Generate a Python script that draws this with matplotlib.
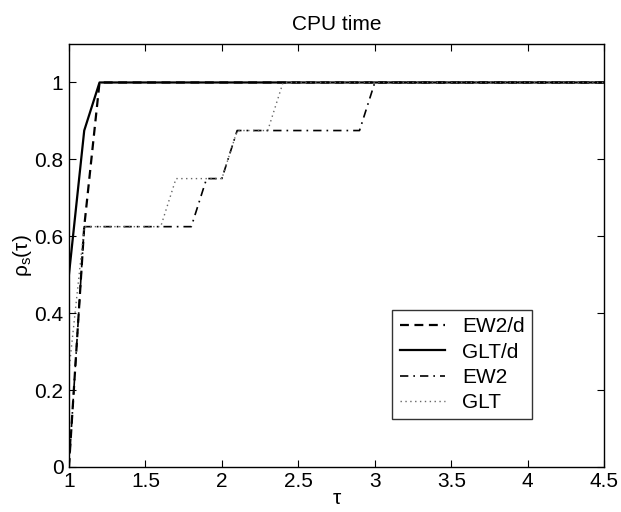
import matplotlib
matplotlib.use('Agg')
import matplotlib.pyplot as plt

# performance profile data (tau, rho)
tau_ew2d = [1.0, 1.1, 1.2, 4.5]
rho_ew2d = [0.0, 0.625, 1.0, 1.0]

tau_gltd = [1.0, 1.1, 1.2, 4.5]
rho_gltd = [0.5, 0.875, 1.0, 1.0]

tau_ew2 = [1.0, 1.1, 1.8, 1.9, 2.0, 2.1, 2.9, 3.0, 4.5]
rho_ew2 = [0.0, 0.625, 0.625, 0.75, 0.75, 0.875, 0.875, 1.0, 1.0]

tau_glt = [1.0, 1.1, 1.6, 1.7, 2.0, 2.1, 2.3, 2.4, 4.5]
rho_glt = [0.25, 0.625, 0.625, 0.75, 0.75, 0.875, 0.875, 1.0, 1.0]

names = ['EW2/d', 'GLT/d', 'EW2', 'GLT']

plt.rcParams['font.family'] = ['Liberation Sans', 'DejaVu Sans']
plt.rcParams['mathtext.default'] = 'regular'

fig = plt.figure(figsize=(6.21, 5.12), dpi=100)
ax = fig.add_axes([0.111, 0.088, 0.862, 0.826])

ax.plot(tau_ew2d, rho_ew2d, 'k--', lw=1.6, dashes=(4, 2.5))
ax.plot(tau_gltd, rho_gltd, 'k-', lw=1.6)
ax.plot(tau_ew2, rho_ew2, 'k-.', lw=1.2, dashes=(5, 3, 1, 3))
ax.plot(tau_glt, rho_glt, color='0.4', ls=':', lw=1.0, dashes=(1, 2.5))

ax.set_xlim(1, 4.5)
ax.set_ylim(0, 1.1)
ax.set_xticks([1, 1.5, 2, 2.5, 3, 3.5, 4, 4.5])
ax.set_xticklabels(['1', '1.5', '2', '2.5', '3', '3.5', '4', '4.5'])
ax.set_yticks([0, 0.2, 0.4, 0.6, 0.8, 1])
ax.set_yticklabels(['0', '0.2', '0.4', '0.6', '0.8', '1'])
ax.tick_params(direction='in', top=True, right=True, length=5, labelsize=15, pad=4)
for s in ax.spines.values():
    s.set_linewidth(1.0)

ax.set_title('CPU time', fontsize=15, pad=10)
ax.set_xlabel('τ', fontsize=15, labelpad=-2)
ax.set_ylabel('ρ$_s$(τ)', fontsize=15, labelpad=0)

leg = ax.legend(names, loc='upper right', bbox_to_anchor=(0.865, 0.371),
                fontsize=15, frameon=True, fancybox=False, edgecolor='k',
                handlelength=2.2, handletextpad=0.8, borderpad=0.35, labelspacing=0.3,
                borderaxespad=0)
leg.get_frame().set_linewidth(1.0)

fig.savefig('out.png', dpi=100)
